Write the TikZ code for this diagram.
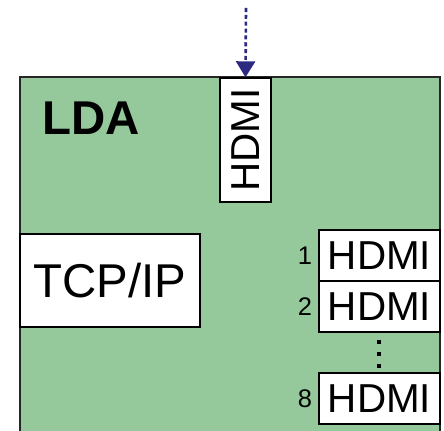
\documentclass[tikz,border=0pt]{standalone}
\usepackage{fontspec}
\setmainfont{Liberation Sans}
\usepackage{tikz}
\usetikzlibrary{arrows.meta,positioning}
\definecolor{ldagreen}{RGB}{149,201,156}
\definecolor{linknavy}{RGB}{43,42,128}

\begin{document}
\begin{tikzpicture}[x=0.02cm, y=-0.02cm,
  port/.style={draw, fill=white, line width=0.8pt, inner sep=0pt, font=\fontsize{23}{23}\selectfont},
  num/.style={inner sep=0pt, anchor=east, font=\fontsize{14.5pt}{16pt}\selectfont}]
\useasboundingbox (0,0) rectangle (444,431);
\clip (0,0) rectangle (444,431);
% board
\draw[fill=ldagreen, draw=black!85, line width=1.4pt] (20,77) rectangle (440,470);
\node[anchor=base west, inner sep=0pt, font=\fontsize{27}{27}\selectfont\bfseries] (lda) at (42,135) {LDA};
% network
\node[draw, fill=white, line width=0.8pt, minimum width=3.6cm, minimum height=1.86cm, font=\fontsize{27}{27}\selectfont] (tcp) at (110,280.5) {TCP/IP};
% output ports
\node[port, minimum width=2.42cm, minimum height=1.02cm] (hdmi1) at (379.5,255.5) {HDMI};
\node[port, minimum width=2.42cm, minimum height=1.02cm, below=-0.8pt of hdmi1] (hdmi2) {HDMI};
\node[port, minimum width=2.42cm, minimum height=1.02cm] (hdmi8) at (379.5,398.5) {HDMI};
\node[num] (n1) at ([xshift=-0.12cm]hdmi1.west) {1};
\node[num] (n2) at ([xshift=-0.12cm]hdmi2.west) {2};
\node[num] (n8) at ([xshift=-0.12cm]hdmi8.west) {8};
\foreach \y in {342,354,366}
  \fill (377.5,\y-2) rectangle ++(4,4);
% input port
\node[port, rotate=90, minimum width=2.48cm, minimum height=1.02cm] (hdmiin) at (245.5,140) {HDMI};
\coordinate (src) at (246,8);
\draw[linknavy, line width=1.5pt, dash pattern=on 2.3pt off 1.6pt, -{Triangle[width=0.38cm,length=0.32cm]}] (src) -- (hdmiin.east);
\end{tikzpicture}
\end{document}
